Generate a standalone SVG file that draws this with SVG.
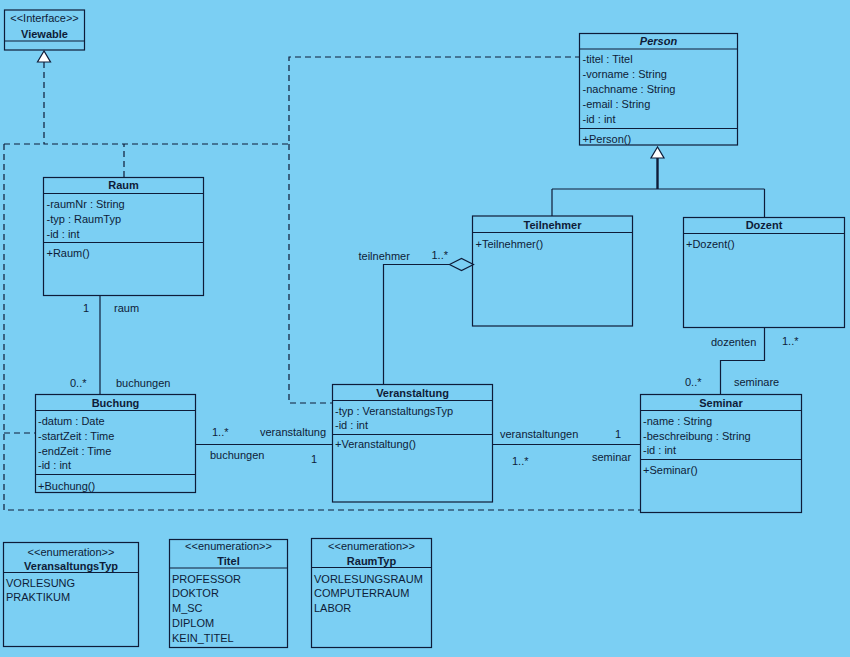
<svg xmlns="http://www.w3.org/2000/svg" width="850" height="657" viewBox="0 0 850 657">
<style>
text{font-family:"Liberation Sans",Arial,sans-serif;font-size:11px;fill:#0e1c38}
.t{font-weight:bold;text-anchor:middle}
.c{text-anchor:middle}
.i{font-style:italic}
.box{fill:none;stroke:#0e1c38;stroke-width:1.2}
.ln{fill:none;stroke:#0e1c38;stroke-width:1.2}
.dash{fill:none;stroke:#0e1c38;stroke-width:1.2;stroke-dasharray:6 4}
</style>
<rect width="850" height="657" fill="#7bcff3"/>

<g id="connectors">
  <!-- realization to Viewable -->
  <path class="dash" d="M44,62 V144 H289 V57 H579"/>
  <path class="dash" d="M124,177 V144"/>
  <path class="dash" d="M289,144 V403 H332"/>
  <path class="dash" d="M4,144 H44"/>
  <path class="dash" d="M4,144 V510 H640"/>
  <path class="dash" d="M4,433 H35"/>
  <polygon points="44,51 37.5,62 50.5,62" fill="#fff" stroke="#0e1c38" stroke-width="1.2"/>
  <!-- generalization Person -->
  <polygon points="657.5,147 651,158 664,158" fill="#fff" stroke="#0e1c38" stroke-width="1.2"/>
  <path class="ln" d="M657.5,158 V189" stroke-width="2.4" style="stroke-width:2.4"/>
  <path class="ln" d="M552,189 H764.5 M552,189 V216 M764.5,189 V217"/>
  <!-- Raum-Buchung -->
  <path class="ln" d="M100,295 V394"/>
  <text x="83" y="311.5">1</text>
  <text x="114" y="311.5">raum</text>
  <text x="70" y="386.5">0..*</text>
  <text x="116" y="386.5">buchungen</text>
  <!-- Buchung-Veranstaltung -->
  <path class="ln" d="M196,444.5 H332"/>
  <text x="212" y="436">1..*</text>
  <text x="260" y="436">veranstaltung</text>
  <text x="210" y="459">buchungen</text>
  <text x="311" y="463">1</text>
  <!-- Veranstaltung-Seminar -->
  <path class="ln" d="M493,444.5 H640"/>
  <text x="500" y="437.5">veranstaltungen</text>
  <text x="615" y="437.5">1</text>
  <text x="512" y="465">1..*</text>
  <text x="592" y="460.5">seminar</text>
  <!-- Teilnehmer-Veranstaltung aggregation -->
  <path class="ln" d="M383.5,384 V264.5 H449.5"/>
  <polygon points="449.5,264.5 461.5,258.5 473.5,264.5 461.5,270.5" fill="none" stroke="#0e1c38" stroke-width="1.2"/>
  <text x="358.5" y="260">teilnehmer</text>
  <text x="431.5" y="259">1..*</text>
  <!-- Dozent-Seminar -->
  <path class="ln" d="M764.5,327 V360.5 H720.5 V394"/>
  <text x="711" y="345.5">dozenten</text>
  <text x="782" y="344.5">1..*</text>
  <text x="685" y="386">0..*</text>
  <text x="734" y="386">seminare</text>
</g>

<g id="Viewable">
  <rect class="box" x="4.5" y="10" width="80" height="40"/>
  <line class="ln" x1="4.5" y1="41" x2="84.5" y2="41"/>
  <text class="c" x="44.5" y="22">&lt;&lt;Interface&gt;&gt;</text>
  <text class="t" x="44.5" y="37.5">Viewable</text>
</g>

<g id="Person">
  <rect class="box" x="579.5" y="33.5" width="158" height="111.5"/>
  <line class="ln" x1="579.5" y1="49" x2="737.5" y2="49"/>
  <line class="ln" x1="579.5" y1="128.5" x2="737.5" y2="128.5"/>
  <text class="t i" x="658.5" y="45">Person</text>
  <text x="582.5" y="63">-titel : Titel</text>
  <text x="582.5" y="78">-vorname : String</text>
  <text x="582.5" y="93">-nachname : String</text>
  <text x="582.5" y="108">-email : String</text>
  <text x="582.5" y="123">-id : int</text>
  <text x="582.5" y="142.5">+Person()</text>
</g>

<g id="Raum">
  <rect class="box" x="43.5" y="177.5" width="160" height="118"/>
  <line class="ln" x1="43.5" y1="193.5" x2="203.5" y2="193.5"/>
  <line class="ln" x1="43.5" y1="242.5" x2="203.5" y2="242.5"/>
  <text class="t" x="123.5" y="189">Raum</text>
  <text x="46.5" y="207.5">-raumNr : String</text>
  <text x="46.5" y="222.5">-typ : RaumTyp</text>
  <text x="46.5" y="237.5">-id : int</text>
  <text x="46.5" y="256.5">+Raum()</text>
</g>

<g id="Teilnehmer">
  <rect class="box" x="472.5" y="216" width="160" height="110"/>
  <line class="ln" x1="472.5" y1="232.5" x2="632.5" y2="232.5"/>
  <text class="t" x="552.5" y="228.5">Teilnehmer</text>
  <text x="475.5" y="247.5">+Teilnehmer()</text>
</g>

<g id="Dozent">
  <rect class="box" x="683.5" y="217.5" width="161" height="110"/>
  <line class="ln" x1="683.5" y1="233.5" x2="844.5" y2="233.5"/>
  <text class="t" x="764" y="229">Dozent</text>
  <text x="686" y="247.5">+Dozent()</text>
</g>

<g id="Buchung">
  <rect class="box" x="35.5" y="394.5" width="160" height="98"/>
  <line class="ln" x1="35.5" y1="410.5" x2="195.5" y2="410.5"/>
  <line class="ln" x1="35.5" y1="474.5" x2="195.5" y2="474.5"/>
  <text class="t" x="115.5" y="407">Buchung</text>
  <text x="38" y="425">-datum : Date</text>
  <text x="38" y="440">-startZeit : Time</text>
  <text x="38" y="455">-endZeit : Time</text>
  <text x="38" y="469">-id : int</text>
  <text x="38" y="490">+Buchung()</text>
</g>

<g id="Veranstaltung">
  <rect class="box" x="332.5" y="384.5" width="160" height="117.5"/>
  <line class="ln" x1="332.5" y1="400.5" x2="492.5" y2="400.5"/>
  <line class="ln" x1="332.5" y1="434.5" x2="492.5" y2="434.5"/>
  <text class="t" x="412.5" y="397">Veranstaltung</text>
  <text x="335" y="415">-typ : VeranstaltungsTyp</text>
  <text x="335" y="429">-id : int</text>
  <text x="335" y="448">+Veranstaltung()</text>
</g>

<g id="Seminar">
  <rect class="box" x="640.5" y="394.5" width="161" height="118"/>
  <line class="ln" x1="640.5" y1="410.5" x2="801.5" y2="410.5"/>
  <line class="ln" x1="640.5" y1="459.5" x2="801.5" y2="459.5"/>
  <text class="t" x="721" y="406.5">Seminar</text>
  <text x="643" y="425">-name : String</text>
  <text x="643" y="440">-beschreibung : String</text>
  <text x="643" y="454">-id : int</text>
  <text x="643" y="473.5">+Seminar()</text>
</g>

<g id="VeransaltungsTyp">
  <rect class="box" x="3.5" y="542.5" width="135" height="104"/>
  <line class="ln" x1="3.5" y1="572.5" x2="138.5" y2="572.5"/>
  <text class="c" x="71" y="555.5">&lt;&lt;enumeration&gt;&gt;</text>
  <text class="t" x="71" y="570">VeransaltungsTyp</text>
  <text x="6" y="586.5">VORLESUNG</text>
  <text x="6" y="601">PRAKTIKUM</text>
</g>

<g id="Titel">
  <rect class="box" x="169.5" y="539.5" width="118" height="108"/>
  <line class="ln" x1="169.5" y1="568" x2="287.5" y2="568"/>
  <text class="c" x="228.5" y="549.5">&lt;&lt;enumeration&gt;&gt;</text>
  <text class="t" x="228.5" y="565">Titel</text>
  <text x="172" y="582.5">PROFESSOR</text>
  <text x="172" y="597">DOKTOR</text>
  <text x="172" y="612">M_SC</text>
  <text x="172" y="627">DIPLOM</text>
  <text x="172" y="642">KEIN_TITEL</text>
</g>

<g id="RaumTyp">
  <rect class="box" x="311.5" y="538.5" width="120" height="109"/>
  <line class="ln" x1="311.5" y1="567.5" x2="431.5" y2="567.5"/>
  <text class="c" x="371.5" y="549.5">&lt;&lt;enumeration&gt;&gt;</text>
  <text class="t" x="371.5" y="565">RaumTyp</text>
  <text x="314" y="582.5">VORLESUNGSRAUM</text>
  <text x="314" y="597">COMPUTERRAUM</text>
  <text x="314" y="612">LABOR</text>
</g>
</svg>
